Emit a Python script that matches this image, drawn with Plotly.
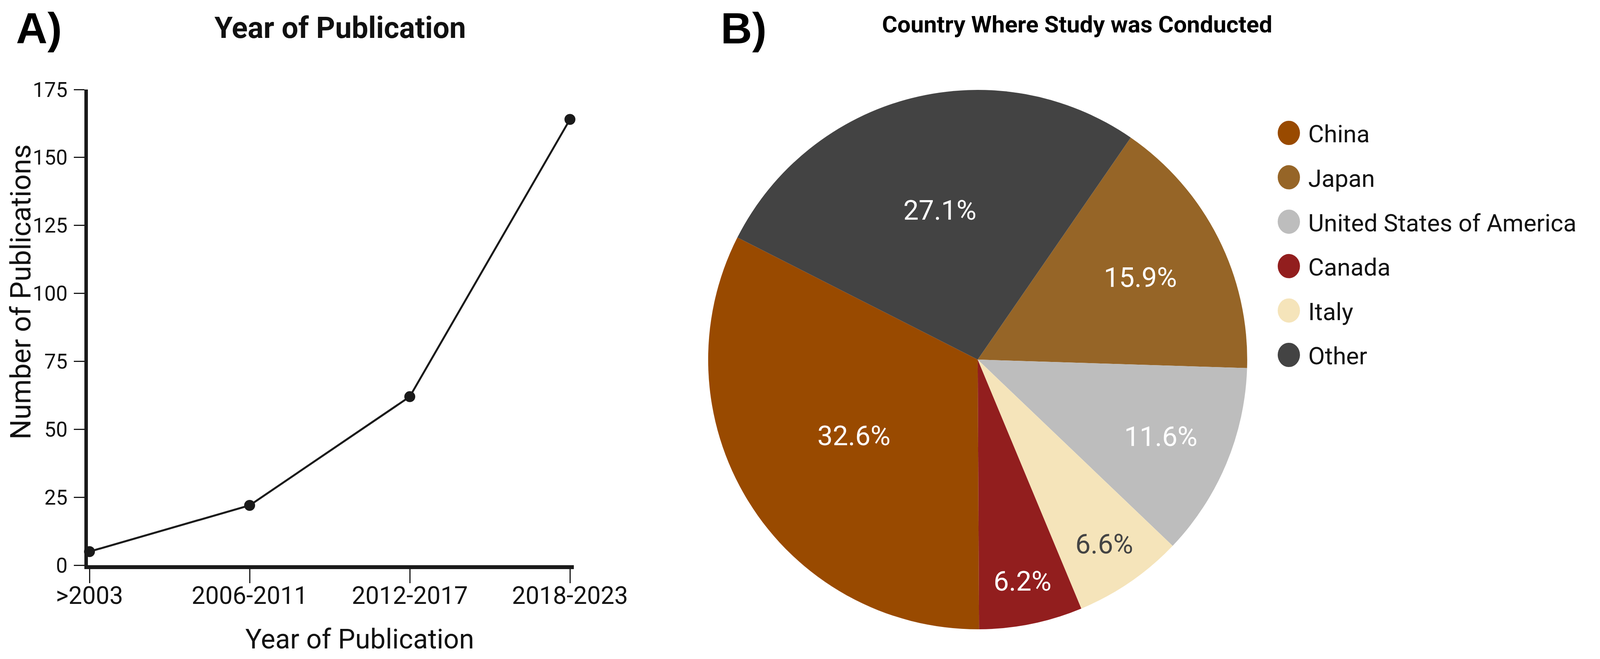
import plotly.graph_objects as go

# Panel A - publications per period
periods = [">2003", "2006-2011", "2012-2017", "2018-2023"]
publications = [5, 22, 62, 164]
y_ticks = [0, 25, 50, 75, 100, 125, 150, 175]

# Panel B - country where study was conducted (legend order)
countries = ["China", "Japan", "United States of America", "Canada", "Italy", "Other"]
study_counts = [84, 41, 30, 16, 17, 70]
country_colors = ["#994a00", "#966527", "#bdbdbd", "#921e1e", "#f5e4ba", "#434343"]
label_colors = ["white", "white", "white", "white", "#444444", "white"]
# slices run clockwise in this order
slice_order = ["Japan", "United States of America", "Italy", "Canada", "China", "Other"]

# the window ends up 4096 css px wide (not 4597) and 1686 tall, page has an 8px body margin;
# layout below is worked out in reference pixels and mapped here
KX = 4096 / 4597
W, H = 4080, 1670
FONT = "Roboto"
INK = "#111111"


def fx(r):
    """reference pixel x -> paper x"""
    return (r * KX - 8) / W


def fy(r):
    """reference pixel y (from top) -> paper y"""
    return 1 - (r - 8) / H


def f(v):
    """font size: split the horizontal squeeze between width and height"""
    return v * KX ** 0.5


fig = go.Figure()

fig.add_trace(go.Scatter(x=periods, y=publications, mode="lines+markers",
                         line=dict(color="#1a1a1a", width=5),
                         marker=dict(size=28, color="#1a1a1a"),
                         cliponaxis=False, showlegend=False))

# pie: centre (2809, 920) in the reference, diameter a compromise between 1458 wide and tall
cx, cy_ = 2809 * KX - 8, 920 - 8
rad = 690
idx = [countries.index(c) for c in slice_order]
fig.add_trace(go.Pie(labels=[countries[i] for i in idx],
                     values=[study_counts[i] for i in idx],
                     marker=dict(colors=[country_colors[i] for i in idx], line=dict(width=0)),
                     sort=False, direction="clockwise", rotation=34.6,
                     texttemplate="%{percent:.1%}", textposition="inside",
                     insidetextorientation="horizontal",
                     textfont=dict(family=FONT, size=f(74), color=[label_colors[i] for i in idx]),
                     domain=dict(x=[(cx - rad) / W, (cx + rad) / W],
                                 y=[1 - (cy_ + rad) / H, 1 - (cy_ - rad) / H]),
                     showlegend=False, hoverinfo="label+percent"))

axis_style = dict(showline=True, linecolor="#1a1a1a", ticks="outside",
                  tickcolor="#1a1a1a", showgrid=False, zeroline=False, automargin=False)

annotations = [
    dict(text="<b>A)</b>", x=fx(44), y=1, xanchor="left", yanchor="top",
         font=dict(family="Liberation Sans", size=f(118), color="black")),
    dict(text="<b>B)</b>", x=fx(2068), y=1, xanchor="left", yanchor="top",
         font=dict(family="Liberation Sans", size=f(118), color="black")),
    dict(text="<b>Year of Publication</b>", x=fx(978), y=fy(71), xanchor="center", yanchor="middle",
         font=dict(size=f(80), color=INK)),
    dict(text="<b>Country Where Study was Conducted</b>", x=fx(3095), y=fy(63),
         xanchor="center", yanchor="middle", font=dict(size=60, color="black")),
    dict(text="Year of Publication", x=fx(1034), y=0, xanchor="center", yanchor="bottom",
         font=dict(size=f(74), color=INK)),
    dict(text="Number of Publications", x=0, y=fy(747), xanchor="left", yanchor="middle",
         textangle=-90, font=dict(size=72, color=INK)),
]

# legend drawn by hand: big round keys
shapes = []
for k, name in enumerate(countries):
    ly = 340 + 113.6 * k
    shapes.append(dict(type="circle", xref="paper", yref="paper",
                       x0=fx(3703 - 32), x1=fx(3703 + 32), y0=fy(ly + 31), y1=fy(ly - 31),
                       fillcolor=country_colors[k], line=dict(width=0)))
    annotations.append(dict(text=name, x=fx(3756), y=fy(ly + 3), xanchor="left", yanchor="middle",
                            font=dict(size=62, color=INK)))

for a_ in annotations:
    a_.update(xref="paper", yref="paper", showarrow=False)
    a_["font"].setdefault("family", FONT)

fig.update_layout(
    width=W, height=H, autosize=False,
    margin=dict(l=0, r=0, t=0, b=0, pad=0),
    paper_bgcolor="white", plot_bgcolor="white",
    font=dict(family=FONT, color=INK),
    xaxis=dict(domain=[fx(252), fx(1649)], type="category", range=[-0.011, 3.025],
               linewidth=10, ticklen=36, tickwidth=3, ticklabelstandoff=-22,
               tickfont=dict(size=f(66), color=INK), **axis_style),
    yaxis=dict(domain=[fy(1446), fy(229)], range=[0, 175], tickvals=y_ticks,
               linewidth=9, ticklen=27, tickwidth=3, ticklabelstandoff=5,
               tickfont=dict(size=f(56), color=INK), **axis_style),
    uniformtext=dict(minsize=f(74), mode="show"),
    annotations=annotations,
    shapes=shapes,
)

fig.write_html("out.html")
